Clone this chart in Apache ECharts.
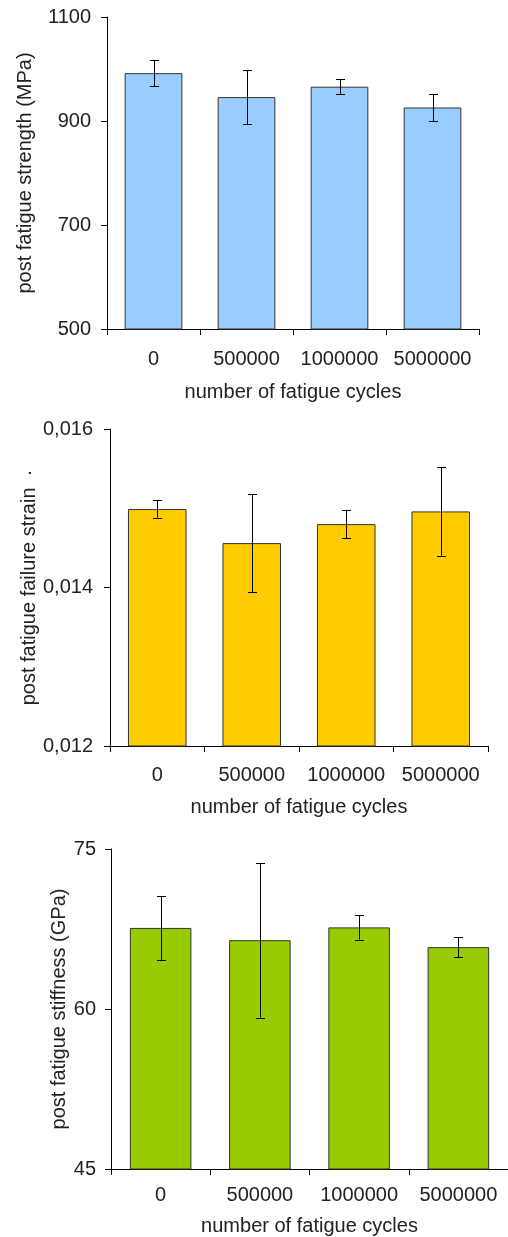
<!DOCTYPE html>
<html>
<head>
<meta charset="utf-8">
<script src="https://cdn.jsdelivr.net/npm/echarts@6/dist/echarts.min.js"></script>
<style>
  html, body { margin: 0; padding: 0; background: #ffffff; }
  #chart { width: 508px; height: 1237px; }
</style>
</head>
<body>
<div id="chart"></div>
<script>
// ---- data ----
const categories = ['0', '500000', '1000000', '5000000'];

const strengthMean = [992, 946, 966, 926];
const strengthErr  = [25, 52, 15, 26];

const strainMean = [0.01499, 0.01456, 0.01480, 0.01496];
const strainErr  = [0.00011, 0.00062, 0.00018, 0.00056];

const stiffnessMean = [67.6, 66.45, 67.65, 65.8];
const stiffnessErr  = [3.0, 7.25, 1.15, 0.95];

const strengthTicks = { min: 500, max: 1100, interval: 200 };
const strainTicks = { min: 0.012, max: 0.016, interval: 0.002 };
const stiffnessTicks = { min: 45, max: 75, interval: 15 };

const xTitle = 'number of fatigue cycles';
const yTitles = ['post fatigue strength (MPa)', 'post fatigue failure strain  \u00b7', 'post fatigue stiffness (GPa)'];
// ---- end data ----

const FONT = '"Liberation Sans", Arial, sans-serif';
const TXT = '#222222';

const chart = echarts.init(document.getElementById('chart'), null, { renderer: 'canvas' });

const grids = [
  { left: 107, top: 17, width: 372, height: 312 },
  { left: 110, top: 429, width: 378, height: 317 },
  { left: 111, top: 849, width: 405, height: 321 }
];
const yNameGaps = [72, 71, 42];
const xNameGaps = [53, 51, 47];
const xLabelMargins = [20, 19, 16];
const yLabelMargins = [16, 17, 15];
const colors = ['#99CCFF', '#FFCC00', '#99CC00'];
const ticksCfg = [strengthTicks, strainTicks, stiffnessTicks];
const means = [strengthMean, strainMean, stiffnessMean];
const errs = [strengthErr, strainErr, stiffnessErr];
const formatters = [
  v => String(Math.round(v)),
  v => v.toFixed(3).replace('.', ','),
  v => String(Math.round(v))
];

const xAxes = [], yAxes = [], series = [];
for (let i = 0; i < 3; i++) {
  xAxes.push({
    type: 'category',
    gridIndex: i,
    data: categories,
    boundaryGap: true,
    name: xTitle,
    nameLocation: 'middle',
    nameGap: xNameGaps[i],
    nameMoveOverlap: false,
    nameTextStyle: { fontFamily: FONT, fontSize: 20, color: TXT },
    axisLine: { show: true, lineStyle: { color: '#000', width: 1 } },
    axisTick: { show: true, length: 6, alignWithLabel: false, lineStyle: { color: '#000' } },
    axisLabel: { fontFamily: FONT, fontSize: 20, color: TXT, margin: xLabelMargins[i], interval: 0 },
    splitLine: { show: false }
  });
  yAxes.push({
    type: 'value',
    gridIndex: i,
    min: ticksCfg[i].min,
    max: ticksCfg[i].max,
    interval: ticksCfg[i].interval,
    name: yTitles[i],
    nameLocation: 'middle',
    nameGap: yNameGaps[i],
    nameMoveOverlap: false,
    nameTextStyle: { fontFamily: FONT, fontSize: 20, color: TXT },
    axisLine: { show: true, lineStyle: { color: '#000', width: 1 } },
    axisTick: { show: true, length: 6, lineStyle: { color: '#000' } },
    axisLabel: { fontFamily: FONT, fontSize: 20, color: TXT, margin: yLabelMargins[i], formatter: formatters[i] },
    splitLine: { show: false }
  });
  series.push({
    type: 'bar',
    xAxisIndex: i,
    yAxisIndex: i,
    data: means[i],
    barWidth: '62%',
    itemStyle: { color: colors[i], borderColor: '#333333', borderWidth: 1 },
    emphasis: { disabled: true },
    silent: true,
    z: 2
  });
  const m = means[i], e = errs[i];
  series.push({
    type: 'custom',
    xAxisIndex: i,
    yAxisIndex: i,
    data: m.map((v, k) => [k, v - e[k], v + e[k]]),
    silent: true,
    z: 5,
    renderItem: function (params, api) {
      const idx = api.value(0);
      const lo = api.coord([idx, api.value(1)]);
      const hi = api.coord([idx, api.value(2)]);
      const x = Math.round(lo[0]) + 0.5;
      const cap = 4.5;
      const style = { stroke: '#000', lineWidth: 1, fill: null };
      return {
        type: 'group',
        children: [
          { type: 'line', shape: { x1: x, y1: hi[1], x2: x, y2: lo[1] }, style },
          { type: 'line', shape: { x1: x - cap, y1: Math.round(hi[1]) + 0.5, x2: x + cap, y2: Math.round(hi[1]) + 0.5 }, style },
          { type: 'line', shape: { x1: x - cap, y1: Math.round(lo[1]) + 0.5, x2: x + cap, y2: Math.round(lo[1]) + 0.5 }, style }
        ]
      };
    }
  });
}

chart.setOption({
  animation: false,
  backgroundColor: '#ffffff',
  grid: grids,
  xAxis: xAxes,
  yAxis: yAxes,
  series: series
});
</script>
</body>
</html>
